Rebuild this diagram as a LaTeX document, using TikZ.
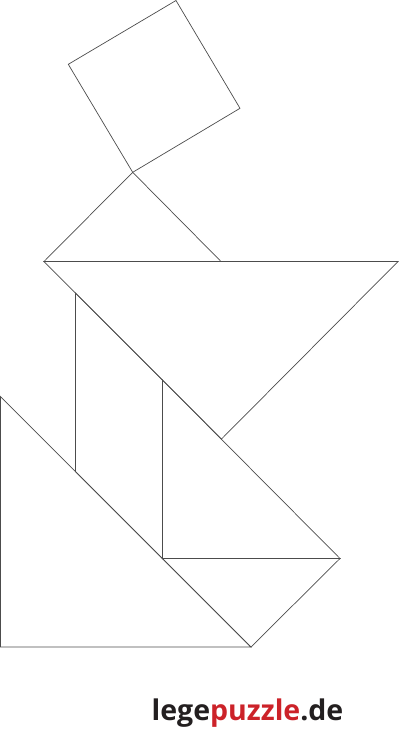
\documentclass[tikz,border=0pt]{standalone}
\usepackage{fontspec}
\newfontfamily\logofont{Open Sans}
\definecolor{logored}{RGB}{204,34,41}
\definecolor{logodark}{RGB}{35,31,32}
\begin{document}
\begin{tikzpicture}[x=1pt,y=-1pt,
  piece/.style={draw=black!70, line width=0.7pt, line join=miter}]
\useasboundingbox (0,0) rectangle (400,732);
% square
\draw[piece] (68.3,64.3) -- (176,0.5) -- (240,108.3) -- (132.7,172.3) -- cycle;
% small triangle top
\draw[piece] (132.7,172.3) -- (44,261.5) -- (221,261.5) -- cycle;
% large triangle top
\draw[piece] (44,261.5) -- (398,261.5) -- (221.5,439) -- cycle;
% parallelogram
\draw[piece] (75.5,293) -- (162.5,380) -- (162.5,558.5) -- (75.5,471.5) -- cycle;
% medium triangle
\draw[piece] (162.5,380) -- (162.5,558.5) -- (340,558.5) -- cycle;
% small triangle bottom
\draw[piece] (162.5,558.5) -- (340,558.5) -- (251,647) -- cycle;
% large triangle bottom
\draw[piece] (0.5,396.5) -- (0.5,647) -- (251,647) -- cycle;
\node[anchor=base west, inner sep=0pt, font=\logofont\bfseries\fontsize{28.5}{32}\selectfont] (logo) at (151.5,720)
  {\textcolor{logodark}{lege}\textcolor{logored}{puzzle}\textcolor{logodark}{.de}};
\end{tikzpicture}
\end{document}
